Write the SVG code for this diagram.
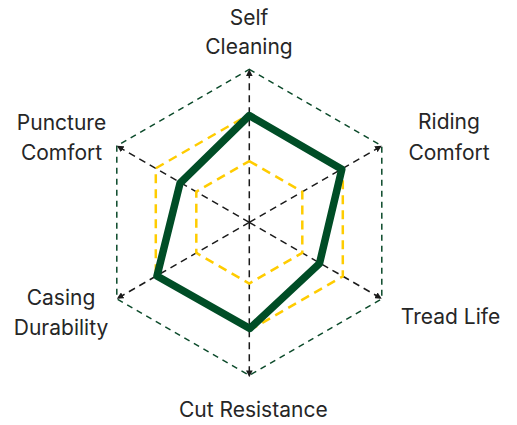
<svg xmlns="http://www.w3.org/2000/svg" width="517" height="425" viewBox="0 0 517 425">
  <style>
    .lbl { font-family: Inter, "Liberation Sans", sans-serif; font-size: 21px; fill: #262626; text-anchor: middle; }
    .grid { fill: none; stroke: #0b4a2a; stroke-width: 1.5; stroke-dasharray: 6 5; }
    .spoke { stroke: #1a1a1a; stroke-width: 1.5; stroke-dasharray: 7 5; marker-end: url(#arr); }
    .ref { fill: none; stroke: #ffcc00; stroke-width: 2.5; stroke-dasharray: 9 6; }
    .data { fill: none; stroke: #004d26; stroke-width: 7.5; stroke-linejoin: round; }
  </style>
  <defs>
    <marker id="arr" viewBox="0 0 10 10" refX="9" refY="5" markerWidth="4.5" markerHeight="4.5" orient="auto" markerUnits="strokeWidth">
      <path d="M0,0 L10,5 L0,10 z" fill="#1a1a1a"/>
    </marker>
  </defs>

  <g id="grid">
    <polygon class="grid" points="249.3,69.3 381.8,145.8 381.8,298.8 249.3,375.3 116.8,298.8 116.8,145.8"/>
  </g>

  <g id="connectors">
    <line class="spoke" x1="249.3" y1="222.3" x2="249.3" y2="70"/>
    <line class="spoke" x1="249.3" y1="222.3" x2="381.2" y2="146.2"/>
    <line class="spoke" x1="249.3" y1="222.3" x2="381.2" y2="298.4"/>
    <line class="spoke" x1="249.3" y1="222.3" x2="249.3" y2="376.5"/>
    <line class="spoke" x1="249.3" y1="222.3" x2="117.4" y2="298.4"/>
    <line class="spoke" x1="249.3" y1="222.3" x2="117.4" y2="146.2"/>
  </g>

  <g id="reference-rings">
    <polygon class="ref" points="249.3,161.1 302.3,191.7 302.3,252.9 249.3,283.5 196.3,252.9 196.3,191.7"/>
    <polygon class="ref" points="249.3,114.3 342.8,168.3 342.8,276.3 249.3,330.3 155.8,276.3 155.8,168.3"/>
  </g>

  <g id="data">
    <polygon class="data" points="249.3,115.5 341.8,169.3 319.5,263.5 249.8,328.5 157,276 180,183.3"/>
  </g>

  <g id="label-self-cleaning">
    <text class="lbl" x="249" y="25">Self</text>
    <text class="lbl" x="249" y="54">Cleaning</text>
  </g>
  <g id="label-riding-comfort">
    <text class="lbl" x="449" y="128.5">Riding</text>
    <text class="lbl" x="449" y="159.5">Comfort</text>
  </g>
  <g id="label-tread-life">
    <text class="lbl" x="450.5" y="323.5">Tread Life</text>
  </g>
  <g id="label-cut-resistance">
    <text class="lbl" x="253.3" y="416.5">Cut Resistance</text>
  </g>
  <g id="label-casing-durability">
    <text class="lbl" x="61" y="305">Casing</text>
    <text class="lbl" x="61" y="335">Durability</text>
  </g>
  <g id="label-puncture-comfort">
    <text class="lbl" x="61.5" y="129.5">Puncture</text>
    <text class="lbl" x="61.5" y="160">Comfort</text>
  </g>
</svg>
